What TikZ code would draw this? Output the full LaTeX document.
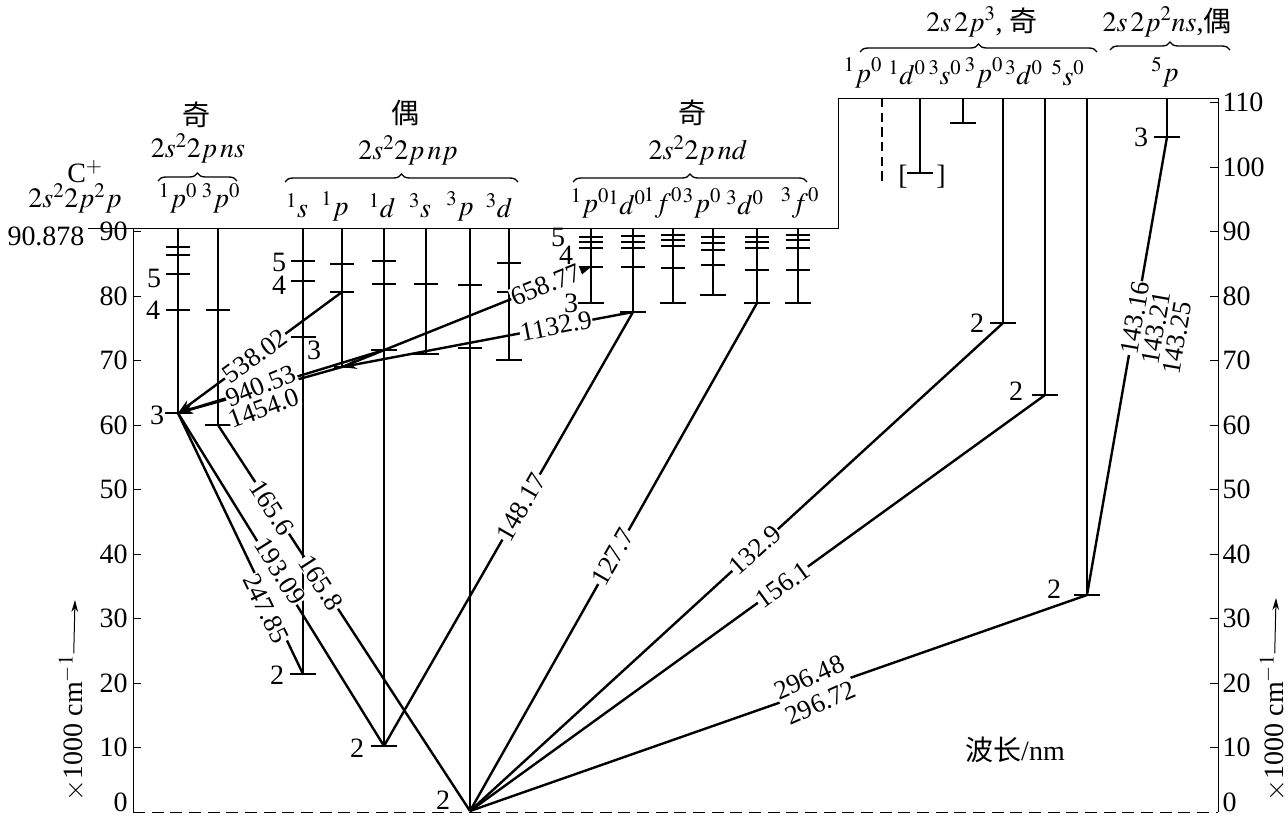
\documentclass[tikz,border=0pt]{standalone}
\usepackage{mathptmx}
\usepackage{fontspec}
\setmainfont{Liberation Serif}
\newfontfamily\cjk{Noto Sans CJK SC}
\usetikzlibrary{arrows.meta,decorations.pathreplacing}

\tikzset{every picture/.style={line width=0.75pt}}
\tikzset{
  col/.style={line width=1.5pt},
  lev/.style={line width=1pt},
  trans/.style={line width=1.8pt},
  arr/.style={-{Stealth[length=11pt,width=7pt]}},
  wl/.style={font=\fontsize{20}{21}\selectfont, inner sep=0.5pt, fill=white},
  lab/.style={font=\fontsize{21}{22}\selectfont, inner sep=0.75pt},
  brc/.style={decorate, decoration={brace, amplitude=6pt}, line width=1pt},
}

\begin{document}
\begin{tikzpicture}[x=0.75pt,y=0.75pt,yscale=-1,xscale=1]
\useasboundingbox (0,0) rectangle (1288,815);

%Shape: Frame and axes
\draw (88,228) -- (838,228) -- (838,98) -- (1218,98);
\draw (133,228) -- (133,812);
\draw (1218,98) -- (1218,812);
\draw [dash pattern={on 9pt off 5pt}] (133,812) -- (1218,812);

%Axis ticks
\foreach \v in {10,20,...,90}{
  \draw (133,{812-6.45*\v}) -- (141,{812-6.45*\v});
  \node [lab,anchor=east] (ly\v) at (129,{812-6.45*\v}) {\v};
}
\foreach \v in {10,20,...,110}{
  \draw (1210,{812-6.45*\v}) -- (1218,{812-6.45*\v});
  \node [lab,anchor=west] (ry\v) at (1221,{812-6.45*\v}) {\v};
}
\node [lab,anchor=east] (ly0) at (129,802) {0};
\node [lab,anchor=west] (ry0) at (1221,802) {0};

% Axis titles
\node [lab,rotate=90] (ytl) at (72,728) {$\times$1000 cm$^{-1}$};
\coordinate (ytipl) at (75,600);
\draw [-{Stealth[length=9pt,width=5pt]}] (ytl) -- (ytipl);
\node [lab,rotate=90] (ytr) at (1273,728) {$\times$1000 cm$^{-1}$};
\coordinate (ytipr) at (1276,598);
\draw [-{Stealth[length=9pt,width=5pt]}] (ytr) -- (ytipr);

%Straight Lines: term columns
\foreach \x/\b in {178/413,218/425,303/674,342/367,384/746,426/354,470/811,509/360,591/303,633/312,673/303,713/295,757/303,798/303}
  \draw [col] (\x,228) -- (\x,\b);
\foreach \x/\b in {920/173,963/123,1003/323,1045/395,1087/595,1167/137}
  \draw [col] (\x,98) -- (\x,\b);
\draw [col,dash pattern={on 7pt off 4pt}] (882,98) -- (882,182);

%Straight Lines: level ticks
\foreach \x/\y in {178/247,178/255,178/274,178/310,218/310,303/261,303/281,342/264,342/292,384/261,384/284,426/284,470/285,470/348,509/263,509/292,591/237,591/242,591/248,591/267,633/236,633/242,633/248,633/267,673/235,673/240,673/246,673/268,713/237,713/243,713/250,713/265,757/237,757/242,757/248,757/270,798/235,798/240,798/248,798/270}
  \draw [lev] (\x-12,\y) -- (\x+12,\y);
\foreach \x/\y in {178/413,218/425,303/674,384/746,384/350,426/354,509/360,591/303,633/312,673/303,713/295,757/303,798/303,920/173,963/123,1003/323,1045/395,1087/595,1167/137}
  \draw [lev] (\x-13,\y) -- (\x+13,\y);
\draw [lev] (334,367) -- (350,367);
\draw [lev] (291,337) -- (316,337);

% Levels
\coordinate (ps3) at (178,413);
\coordinate (tps3) at (218,425);
\coordinate (ss2) at (303,674);
\coordinate (dd2) at (384,746);
\coordinate (gnd) at (470,811);
\coordinate (pp4) at (342,292);
\coordinate (pp3) at (342,367);
\coordinate (dp3) at (384,350);
\coordinate (pd4) at (591,267);
\coordinate (dd3) at (633,312);
\coordinate (tdd3) at (757,303);
\coordinate (qp) at (1003,323);
\coordinate (qd) at (1045,395);
\coordinate (qs) at (1087,595);
\coordinate (qq) at (1167,137);

%Straight Lines: transitions
\draw [trans,arr] (pp4) -- (ps3);
\draw [trans,arr] (dp3) -- (ps3);
\draw [trans,arr] (pp3) -- (ps3);
\draw [trans,arr] (pp3) -- (pd4);
\draw [trans,arr] (dd3) -- (pp3);
\draw [trans] (tps3) -- (gnd);
\draw [trans] (ps3) -- (dd2);
\draw [trans] (ps3) -- (ss2);
\draw [trans] (dd2) -- (dd3);
\draw [trans] (gnd) -- (tdd3);
\draw [trans] (gnd) -- (qp);
\draw [trans] (gnd) -- (qd);
\draw [trans] (gnd) -- (qs);
\draw [trans] (qs) -- (qq);

% Text Node: wavelengths
\node [wl,rotate=36] (w538) at (255,356) {538.02};
\node [wl,rotate=22] (w940) at (261,386) {940.53};
\node [wl,rotate=20] (w1454) at (264,408) {1454.0};
\node [wl,rotate=22] (w658) at (546,285) {658.77};
\node [wl,rotate=11] (w1132) at (556,326) {1132.9};
\node [wl,rotate=-57] (w1656) at (272,508) {165.6};
\node [wl,rotate=-57] (w1658) at (321,583) {165.8};
\node [wl,rotate=-58] (w193) at (280,571) {193.09};
\node [wl,rotate=-64] (w247) at (266,609) {247.85};
\node [wl,rotate=60] (w148) at (521,507) {148.17};
\node [wl,rotate=60] (w127) at (613,557) {127.7};
\node [wl,rotate=42] (w132) at (755,550) {132.9};
\node [wl,rotate=36] (w156) at (783,585) {156.1};
\node [wl,rotate=24,align=center] (w296) at (815,690) {296.48\\296.72};
\node [wl,rotate=80] (w14316) at (1135,318) {143.16};
\node [wl,rotate=80] (w14321) at (1156,328) {143.21};
\node [wl,rotate=80] (w14325) at (1177,338) {143.25};

% Text Node: limit
\node [lab] (cion) at (85,172) {C$^+$};
\node [lab] (cconf) at (75,198) {$2s^22p^2p$};
\node [lab,anchor=east] (lim) at (86,236) {90.878};

% Text Node: ns group
\node [lab] (odd1) at (196,115) {\cjk 奇};
\node [lab] (conf1) at (198,148) {$2s^22p\,ns$};
\draw [brc] (158,181) -- (237,181);
\node [lab] (ta1) at (178,198) {$^1p^0$};
\node [lab] (ta2) at (221,198) {$^3p^0$};

% Text Node: np group
\node [lab] (even1) at (405,113) {\cjk 偶};
\node [lab] (conf2) at (408,150) {$2s^22p\,np$};
\draw [brc] (285,182) -- (518,182);
\node [lab] (tb1) at (297,206) {$^1s$};
\node [lab] (tb2) at (335,206) {$^1p$};
\node [lab] (tb3) at (382,206) {$^1d$};
\node [lab] (tb4) at (420,206) {$^3s$};
\node [lab] (tb5) at (460,206) {$^3p$};
\node [lab] (tb6) at (499,206) {$^3d$};

% Text Node: nd group
\node [lab] (odd2) at (692,113) {\cjk 奇};
\node [lab] (conf3) at (698,150) {$2s^22p\,nd$};
\draw [brc] (573,182) -- (807,182);
\node [lab] (tc1) at (590,203) {$^1p^0$};
\node [lab] (tc2) at (627,203) {$^1d^0$};
\node [lab] (tc3) at (663,203) {$^1f^0$};
\node [lab] (tc4) at (702,203) {$^3p^0$};
\node [lab] (tc5) at (745,203) {$^3d^0$};
\node [lab] (tc6) at (800,203) {$^3f^0$};

% Text Node: 2s2p3 group
\node [lab] (conf4) at (982,22) {$2s\,2p^3$, {\cjk 奇}};
\draw [brc] (860,52) -- (1097,52);
\node [lab] (td1) at (863,73) {$^1p^0$};
\node [lab] (td2) at (907,73) {$^1d^0$};
\node [lab] (td3) at (945,73) {$^3s^0$};
\node [lab] (td4) at (984,73) {$^3p^0$};
\node [lab] (td5) at (1024,73) {$^3d^0$};
\node [lab] (td6) at (1068,73) {$^5s^0$};
\node [lab] (brl) at (903,177) {[};
\node [lab] (brr) at (941,177) {]};

% Text Node: 2s2p2ns group
\node [lab] (conf5) at (1167,22) {$2s\,2p^2ns$,{\cjk 偶}};
\draw [brc] (1110,50) -- (1230,50);
\node [lab] (te1) at (1165,72) {$^5p$};

% Text Node: level numbers
\node [lab] (n5) at (154,278) {5};
\node [lab] (n4) at (153,310) {4};
\node [lab] (n3) at (157,415) {3};
\node [lab] (m5) at (279,262) {5};
\node [lab] (m4) at (279,285) {4};
\node [lab] (m3) at (314,350) {3};
\node [lab] (k5) at (558,237) {5};
\node [lab] (k4) at (566,255) {4};
\node [lab] (k3) at (571,303) {3};
\node [lab] (g1) at (277,675) {2};
\node [lab] (g2) at (357,748) {2};
\node [lab] (g3) at (443,800) {2};
\node [lab] (q1) at (977,323) {2};
\node [lab] (q2) at (1016,391) {2};
\node [lab] (q3) at (1054,589) {2};
\node [lab] (q4) at (1141,137) {3};

% Text Node: wavelength unit
\node [lab] (wave) at (1015,750) {{\cjk 波长}/nm};

\end{tikzpicture}
\end{document}
